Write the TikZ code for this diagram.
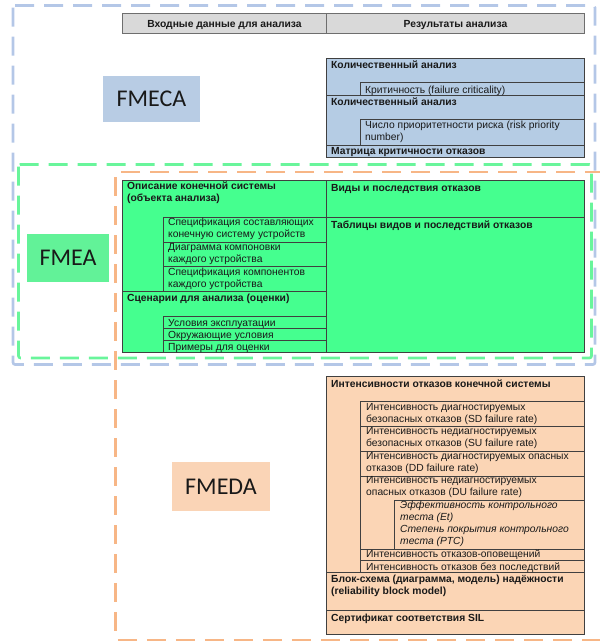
\documentclass[tikz,border=0pt]{standalone}
\usepackage{fontspec}
\setmainfont{Liberation Sans}
\newfontfamily\labelfont{Carlito}
\definecolor{blueframe}{RGB}{180,199,231}
\definecolor{greenframe}{RGB}{105,245,155}
\definecolor{orangeframe}{RGB}{247,182,134}
\definecolor{hdrfill}{RGB}{217,217,217}
\definecolor{hdrline}{RGB}{110,110,110}
\definecolor{fmecafill}{RGB}{181,204,228}
\definecolor{fmecalbl}{RGB}{184,204,228}
\definecolor{fmeafill}{RGB}{69,255,143}
\definecolor{fmealbl}{RGB}{98,242,152}
\definecolor{fmedafill}{RGB}{251,213,181}
\definecolor{fmedalbl}{RGB}{250,212,182}
\definecolor{tblline}{RGB}{64,64,64}
\definecolor{txtcol}{RGB}{25,25,25}

\begin{document}
\begin{tikzpicture}[x=1pt,y=-1pt,
  frame/.style={line width=2.6pt, dash pattern=on 19pt off 10pt, rounded corners=2pt},
  tbl/.style={draw=tblline, line width=0.9pt},
  txt/.style={anchor=north west, inner sep=0pt, yshift=9pt, align=left, text=txtcol,
    font=\fontsize{10.3}{12}\selectfont, execute at begin node={\rule{0pt}{9pt}}},
  txtb/.style={txt, font=\fontsize{10.3}{12}\selectfont\bfseries},
  txti/.style={txt, font=\fontsize{10.3}{12}\selectfont\itshape},
  hdr/.style={anchor=base, inner sep=0pt, text=txtcol, font=\fontsize{10.3}{12}\selectfont\bfseries},
  tag/.style={inner sep=0pt, text=txtcol, font=\labelfont\fontsize{24}{24}\selectfont}]
\useasboundingbox (0,0) rectangle (600,643);

% dashed frames
\draw[frame, draw=blueframe] (13,5.5) rectangle (595,364.5);
\draw[frame, draw=greenframe] (18.5,164.5) rectangle (591.5,358);
\draw[frame, draw=orangeframe] (604,172) -| (115.5,640) -- (604,640);

% header
\draw[tbl, draw=hdrline, fill=hdrfill] (122,13.5) rectangle (584,33.5);
\draw[tbl, draw=hdrline] (326.5,13.5) -- (326.5,33.5);
\node[hdr] (inhdr) at (224.5,27.5) {Входные данные для анализа};
\node[hdr] (outhdr) at (455.5,27.5) {Результаты анализа};

% FMECA
\node[tag, fill=fmecalbl, minimum width=97pt, minimum height=46pt] (fmeca) at (151.5,99) {FMECA};
\draw[tbl, fill=fmecafill] (326.5,58) rectangle (584,157);
\draw[tbl] (326.5,95) -- (584,95) (326.5,145) -- (584,145);
\draw[tbl] (584,82.5) -| (360,95) (584,119.5) -| (360,145);
\node[txtb] (quant1) at (331,68) {Количественный анализ};
\node[txt] (crit) at (365,93) {Критичность (failure criticality)};
\node[txtb] (quant2) at (331,105.5) {Количественный анализ};
\node[txt] (rpn) at (365,130) {Число приоритетности риска (risk priority\\number)};
\node[txtb] (matrix) at (331,154) {Матрица критичности отказов};

% FMEA
\node[tag, fill=fmealbl, minimum width=82pt, minimum height=48pt] (fmea) at (68,258) {FMEA};
\draw[tbl, fill=fmeafill] (122,180) rectangle (584,352.5);
\draw[tbl] (326.5,180) -- (326.5,352.5);
\draw[tbl] (584,217) -| (163.5,291);
\draw[tbl] (163.5,242) -- (326.5,242) (163.5,266.5) -- (326.5,266.5);
\draw[tbl] (122,291) -- (326.5,291);
\draw[tbl] (326.5,316) -| (163.5,352.5);
\draw[tbl] (163.5,328) -- (326.5,328) (163.5,340) -- (326.5,340);
\node[txtb] (sysdesc) at (127,191) {Описание конечной системы\\(объекта анализа)};
\node[txt] (devspec) at (168,227) {Спецификация составляющих\\конечную систему устройств};
\node[txt] (layout) at (168,252) {Диаграмма компоновки\\каждого устройства};
\node[txt] (compspec) at (168,276.5) {Спецификация компонентов\\каждого устройства};
\node[txtb] (scen) at (127,301.5) {Сценарии для анализа (оценки)};
\node[txt] (opcond) at (168,326) {Условия эксплуатации};
\node[txt] (envcond) at (168,338) {Окружающие условия};
\node[txt] (samples) at (168,350) {Примеры для оценки};
\node[txtb] (modes) at (331,191) {Виды и последствия отказов};
\node[txtb] (tables) at (331,228) {Таблицы видов и последствий отказов};

% FMEDA
\node[tag, fill=fmedalbl, minimum width=98pt, minimum height=49pt] (fmeda) at (221,486.5) {FMEDA};
\draw[tbl, fill=fmedafill] (326.5,376) rectangle (584,634);
\draw[tbl] (584,401.5) -| (360,572);
\draw[tbl] (360,426) -- (584,426) (360,451) -- (584,451) (360,476) -- (584,476);
\draw[tbl] (584,500) -| (394,549);
\draw[tbl] (360,549) -- (584,549) (360,560.5) -- (584,560.5);
\draw[tbl] (326.5,572) -- (584,572) (326.5,610) -- (584,610);
\node[txtb] (total) at (331,387.5) {Интенсивности отказов конечной системы};
\node[txt] (sd) at (366,412) {Интенсивность диагностируемых\\безопасных отказов (SD failure rate)};
\node[txt] (su) at (366,436.5) {Интенсивность недиагностируемых\\безопасных отказов (SU failure rate)};
\node[txt] (dd) at (366,461) {Интенсивность диагностируемых опасных\\отказов (DD failure rate)};
\node[txt] (du) at (366,485) {Интенсивность недиагностируемых\\опасных отказов (DU failure rate)};
\node[txti] (ptest) at (400,510) {Эффективность контрольного\\теста (Et)\\Степень покрытия контрольного\\теста (PTC)};
\node[txt] (alarm) at (366,557.5) {Интенсивность отказов-оповещений};
\node[txt] (noeff) at (366,570) {Интенсивность отказов без последствий};
\node[txtb] (rbd) at (331,584) {Блок-схема (диаграмма, модель) надёжности\\(reliability block model)};
\node[txtb] (sil) at (331,621) {Сертификат соответствия SIL};
\end{tikzpicture}
\end{document}
